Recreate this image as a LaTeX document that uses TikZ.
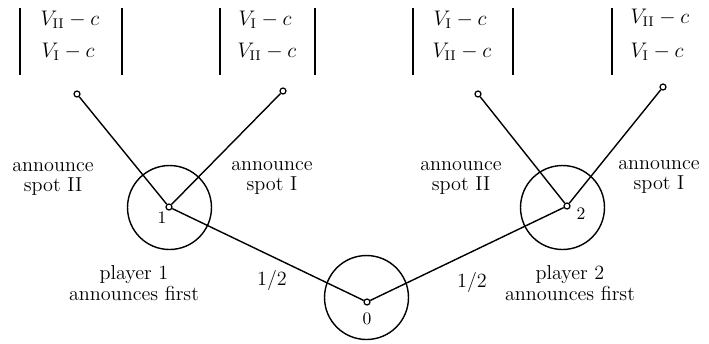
\documentclass[tikz,border=0pt]{standalone}
\usepackage{amsmath}
\usetikzlibrary{positioning}
\tikzset{
  decision ring/.style={draw, circle, line width=0.8pt, minimum size=1.68cm, inner sep=0pt},
  decision dot/.style={draw, circle, line width=0.7pt, minimum size=0.12cm, inner sep=0pt, fill=white},
  branch/.style={line width=0.8pt},
  payoff bar/.style={line width=1.2pt},
  move label/.style={
      align=center,
      font=\fontsize{11.5}{11.5}\selectfont
    },
  payoff/.style={font=\fontsize{12}{12}\selectfont}
}

\begin{document}
\begin{tikzpicture}[x=0.02cm, y=-0.02cm]

  \useasboundingbox (0,0) rectangle (709,343);

  % ------------------------------------------------------------------
  % Chance node and the two players' decision nodes.
  % ------------------------------------------------------------------
  \node[decision ring] (ring0) at (366.5,297.5) {};
  \node[decision ring] (ring1) at (169.5,207.5) {};
  \node[decision ring] (ring2) at (562.5,207.5) {};

  \node[decision dot] (n0) at (367,302) {};
  \node[decision dot] (n1) at (169,207) {};
  \node[decision dot] (n2) at (567,206) {};

  \node (lab0) at (367,319) {0};
  \node (lab1) at (162,218) {1};
  \node (lab2) at (581,214) {2};

  % ------------------------------------------------------------------
  % Terminal nodes.
  % ------------------------------------------------------------------
  \node[decision dot] (l1) at (77,94) {};
  \node[decision dot] (l2) at (283,91) {};
  \node[decision dot] (l3) at (478,94) {};
  \node[decision dot] (l4) at (663,87) {};

  \draw[branch] (n0) -- (n1);
  \draw[branch] (n0) -- (n2);
  \draw[branch] (n1) -- (l1);
  \draw[branch] (n1) -- (l2);
  \draw[branch] (n2) -- (l3);
  \draw[branch] (n2) -- (l4);

  % ------------------------------------------------------------------
  % Move labels.
  % ------------------------------------------------------------------
  \node[move label] (half1) at (272,280) {1/2};
  \node[move label] (half2) at (472,282) {1/2};

  \node[move label] (first1) at (134,283) {player 1\\announces first};
  \node[move label] (first2) at (570,283) {player 2\\announces first};

  \node[move label] (spotIIa) at (53,179) {announce\\spot II};
  \node[move label] (spotIa) at (272,178) {announce\\spot I};
  \node[move label] (spotIIb) at (461,178) {announce\\spot II};
  \node[move label] (spotIb) at (659,177) {announce\\spot I};

  % ------------------------------------------------------------------
  % Payoff vectors.
  % ------------------------------------------------------------------
  \foreach \x in {20,122,220,315,413,513,612}
    \draw[payoff bar] (\x,8) -- (\x,75);

  \node[payoff] (p1a) at (70,20) {$V_{\mathrm{II}}-c$};
  \node[payoff] (p1b) at (68,52) {$V_{\mathrm{I}}-c$};
  \node[payoff] (p2a) at (265,20) {$V_{\mathrm{I}}-c$};
  \node[payoff] (p2b) at (267,52) {$V_{\mathrm{II}}-c$};
  \node[payoff] (p3a) at (460,20) {$V_{\mathrm{I}}-c$};
  \node[payoff] (p3b) at (462,52) {$V_{\mathrm{II}}-c$};
  \node[payoff] (p4a) at (660,18) {$V_{\mathrm{II}}-c$};
  \node[payoff] (p4b) at (657,52) {$V_{\mathrm{I}}-c$};

\end{tikzpicture}
\end{document}
